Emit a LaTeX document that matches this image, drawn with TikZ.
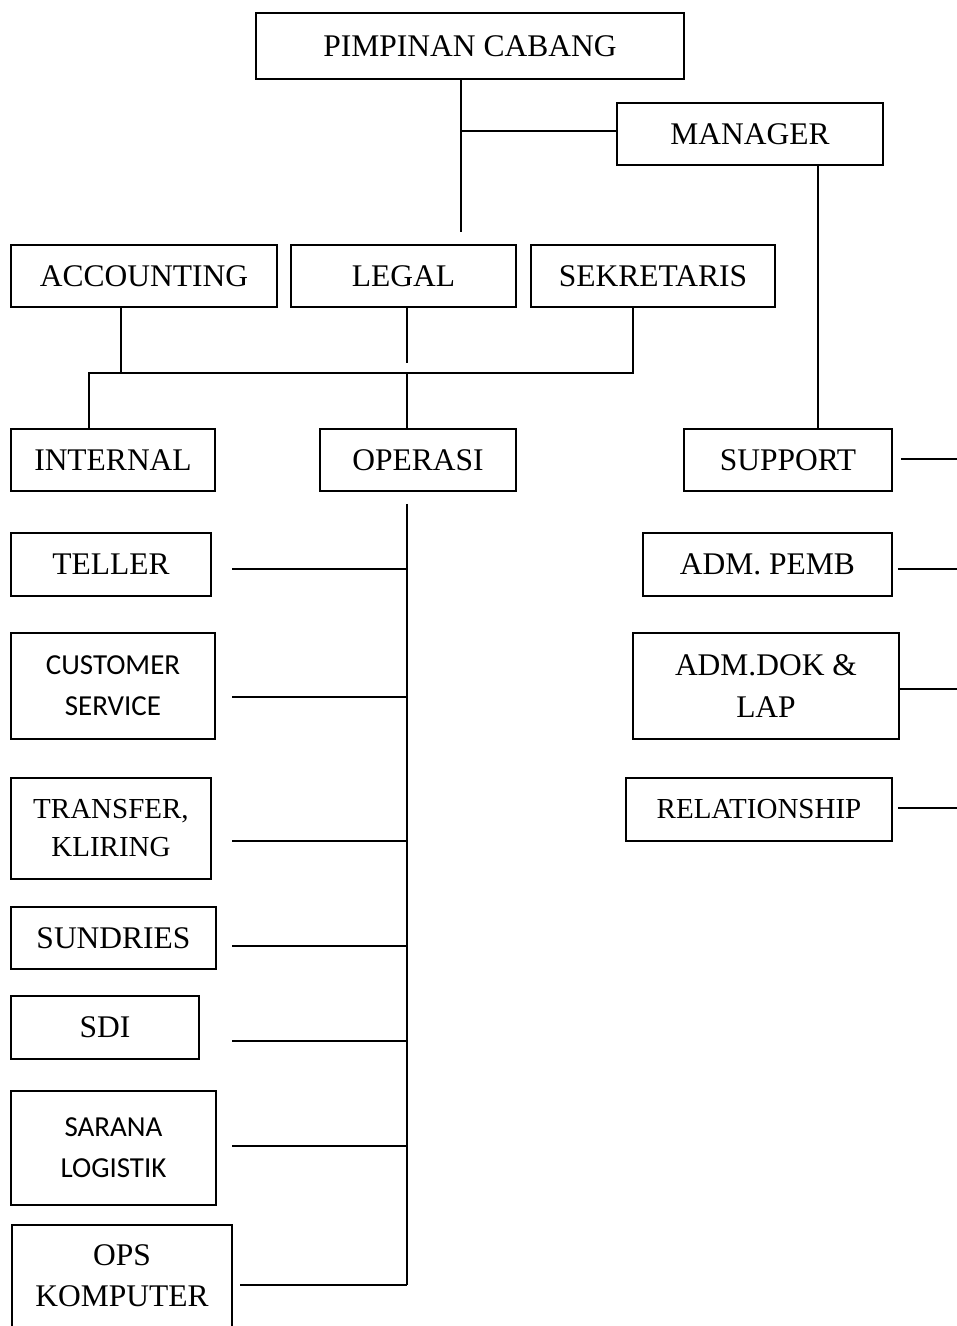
\documentclass[tikz,border=0pt]{standalone}
\usepackage{fontspec}
\setmainfont{Liberation Serif}
\newfontfamily\sansfam{Carlito}
\begin{document}
\begin{tikzpicture}[x=1pt,y=-1pt,
  box/.style={draw,line width=1.5pt,inner sep=0pt,align=center,
    font=\fontsize{31.5}{42}\selectfont},
  sbox/.style={box,font=\sansfam\fontsize{29}{41}\selectfont},
  conn/.style={line width=1.5pt}]
\useasboundingbox (0,0) rectangle (957,1326);
% top level
\node[box,minimum width=428pt,minimum height=66pt] (pc) at (470,46) {PIMPINAN CABANG};
\node[box,minimum width=266pt,minimum height=62pt] (mgr) at (750,134) {MANAGER};
% second row
\node[box,minimum width=266pt,minimum height=62pt] (acc) at (144,276) {ACCOUNTING};
\node[box,minimum width=225pt,minimum height=62pt] (leg) at (403.5,276) {LEGAL};
\node[box,minimum width=244pt,minimum height=62pt] (sek) at (653,276) {SEKRETARIS};
% third row
\node[box,minimum width=204pt,minimum height=62pt] (int) at (113,460) {INTERNAL};
\node[box,minimum width=196pt,minimum height=62pt] (ops) at (418,460) {OPERASI};
\node[box,minimum width=208pt,minimum height=62pt] (sup) at (788,460) {SUPPORT};
% left column
\node[box,minimum width=200pt,minimum height=63pt] (tel) at (111,564.5) {TELLER};
\node[sbox,minimum width=204pt,minimum height=106pt] (cs) at (113,686) {CUSTOMER\\SERVICE};
\node[box,minimum width=200pt,minimum height=101pt,font=\fontsize{29}{38}\selectfont] (tk) at (111,828.5) {TRANSFER,\\KLIRING};
\node[box,minimum width=205pt,minimum height=62pt] (sun) at (113.5,938) {SUNDRIES};
\node[box,minimum width=188pt,minimum height=63pt] (sdi) at (105,1027.5) {SDI};
\node[sbox,minimum width=205pt,minimum height=114pt] (sar) at (113.5,1148) {SARANA\\LOGISTIK};
\node[box,draw=none,font=\fontsize{31.5}{41}\selectfont] (opk) at (122,1276) {OPS\\KOMPUTER};
\draw[conn] (12,1326) |- (232,1225) -- (232,1326);
% right column
\node[box,minimum width=249pt,minimum height=63pt] (adp) at (767.5,564.5) {ADM. PEMB};
\node[box,minimum width=266pt,minimum height=106pt] (add) at (766,686) {ADM.DOK \&\\LAP};
\node[box,minimum width=266pt,minimum height=63pt,font=\fontsize{29}{38}\selectfont] (rel) at (759,809.5) {RELATIONSHIP};
% coordinates
\coordinate (j1) at (461,232);
\coordinate (busL) at (89,373);
\coordinate (busR) at (633,373);
\coordinate (vb) at (407,1285);
\coordinate (btel) at (232,569);
\coordinate (bcs) at (232,697);
\coordinate (btk) at (232,841);
\coordinate (bsun) at (232,946);
\coordinate (bsdi) at (232,1041);
\coordinate (bsar) at (232,1146);
\coordinate (bopk) at (240,1285);
\coordinate (rsup) at (957,459);
\coordinate (radp) at (957,569);
\coordinate (radd) at (957,689);
\coordinate (rrel) at (957,808);
% connectors top
\draw[conn] (pc.south -| j1) -- (j1);
\draw[conn] (j1 |- 0,131) -- (mgr.west |- 0,131);
\draw[conn] ([xshift=68pt]mgr.south) -- ([xshift=30pt]sup.north);
% second row bus
\draw[conn] ([xshift=-23pt]acc.south) -- ([xshift=-23pt]acc.south |- busL);
\draw[conn] ([xshift=3.5pt]leg.south) -- ++(0,55);
\draw[conn] (sek.south -| busR) -- (busR) -- (busL) -- (busL |- int.north);
\draw[conn] ([xshift=-11pt]ops.north) -- ([xshift=-11pt]ops.north |- busL);
% operasi bus
\draw[conn] ([xshift=-11pt,yshift=-12pt]ops.south) -- (vb);
\draw[conn] (btel) -- (btel -| vb);
\draw[conn] (bcs) -- (bcs -| vb);
\draw[conn] (btk) -- (btk -| vb);
\draw[conn] (bsun) -- (bsun -| vb);
\draw[conn] (bsdi) -- (bsdi -| vb);
\draw[conn] (bsar) -- (bsar -| vb);
\draw[conn] (bopk) -- (vb);
% right branches
\draw[conn] ([xshift=8pt]sup.east |- rsup) -- (rsup);
\draw[conn] ([xshift=5pt]adp.east |- radp) -- (radp);
\draw[conn] (add.east |- radd) -- (radd);
\draw[conn] ([xshift=5pt]rel.east |- rrel) -- (rrel);
\end{tikzpicture}
\end{document}
